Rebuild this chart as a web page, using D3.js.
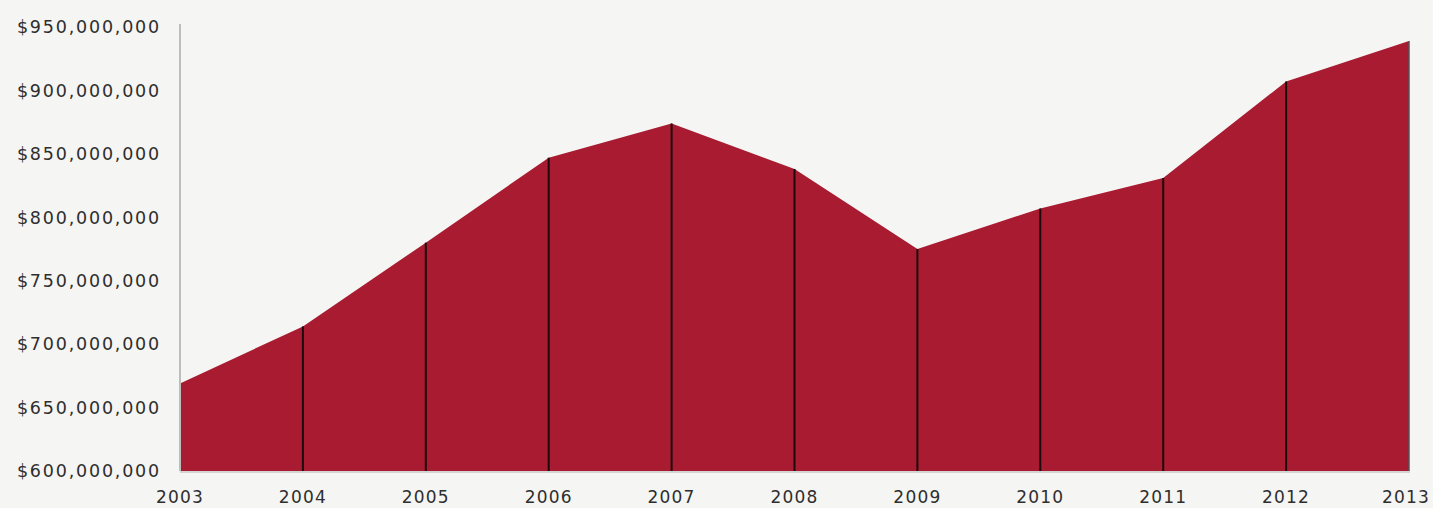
<!DOCTYPE html>
<html>
<head>
<meta charset="utf-8">
<script src="https://cdn.jsdelivr.net/npm/d3@7"></script>
<style>
html,body{margin:0;padding:0;background:#f5f5f3;}
svg{display:block;}
text{font-family:"DejaVu Sans",sans-serif;fill:#2e2e2e;}
</style>
</head>
<body>
<svg id="chart" width="1433" height="508"></svg>
<script>
const years = ["2003","2004","2005","2006","2007","2008","2009","2010","2011","2012","2013"];
const values = [669e6, 714e6, 780e6, 847e6, 874e6, 838e6, 775e6, 807e6, 831e6, 907e6, 939e6];
const yTicks = [600e6, 650e6, 700e6, 750e6, 800e6, 850e6, 900e6, 950e6];

const W = 1433;
const svg = d3.select("#chart");
const x = d3.scalePoint().domain(years).range([180, 1409]);
const y = d3.scaleLinear().domain([600e6, 950e6]).range([471, 27]);

const data = years.map((yr, i) => ({yr, v: values[i]}));

// area
svg.append("path")
  .datum(data)
  .attr("d", d3.area().x(d => x(d.yr)).y0(y(600e6)).y1(d => y(d.v)))
  .attr("fill", "#a81b31");

// vertical dividers
svg.selectAll("line.div")
  .data(data.slice(1))
  .enter().append("line")
  .attr("class", "div")
  .attr("x1", d => x(d.yr)).attr("x2", d => x(d.yr))
  .attr("y1", d => y(d.v)).attr("y2", y(600e6))
  .attr("stroke", d => d.yr === "2013" ? "#555" : "#1e0a0d")
  .attr("stroke-width", d => d.yr === "2013" ? 1.5 : 2);

// y axis line
svg.append("line")
  .attr("x1", 180).attr("x2", 180)
  .attr("y1", 24).attr("y2", y(600e6))
  .attr("stroke", "#bdbdbd").attr("stroke-width", 2);

// bottom line
svg.append("line")
  .attr("x1", 180).attr("x2", 1410)
  .attr("y1", y(600e6) + 1).attr("y2", y(600e6) + 1)
  .attr("stroke", "#c8c8c8").attr("stroke-width", 1.5);

// y labels
const fmt = d3.format("$,.0f");
svg.selectAll("text.yl")
  .data(yTicks)
  .enter().append("text")
  .attr("class", "yl")
  .attr("x", 161)
  .attr("y", d => y(d))
  .attr("dy", "0.36em")
  .attr("text-anchor", "end")
  .attr("font-size", 17.5)
  .attr("letter-spacing", "1.8px")
  .text(d => fmt(d));

// x labels
svg.selectAll("text.xl")
  .data(years)
  .enter().append("text")
  .attr("class", "xl")
  .attr("y", 497)
  .attr("dy", "0.36em")
  .attr("text-anchor", "middle")
  .attr("font-size", 17)
  .attr("letter-spacing", "1.2px")
  .text(d => d)
  .each(function(d) {
    const w = this.getComputedTextLength();
    const cx = Math.min(x(d), W - 3 - w / 2);
    d3.select(this).attr("x", cx);
  });
</script>
</body>
</html>
